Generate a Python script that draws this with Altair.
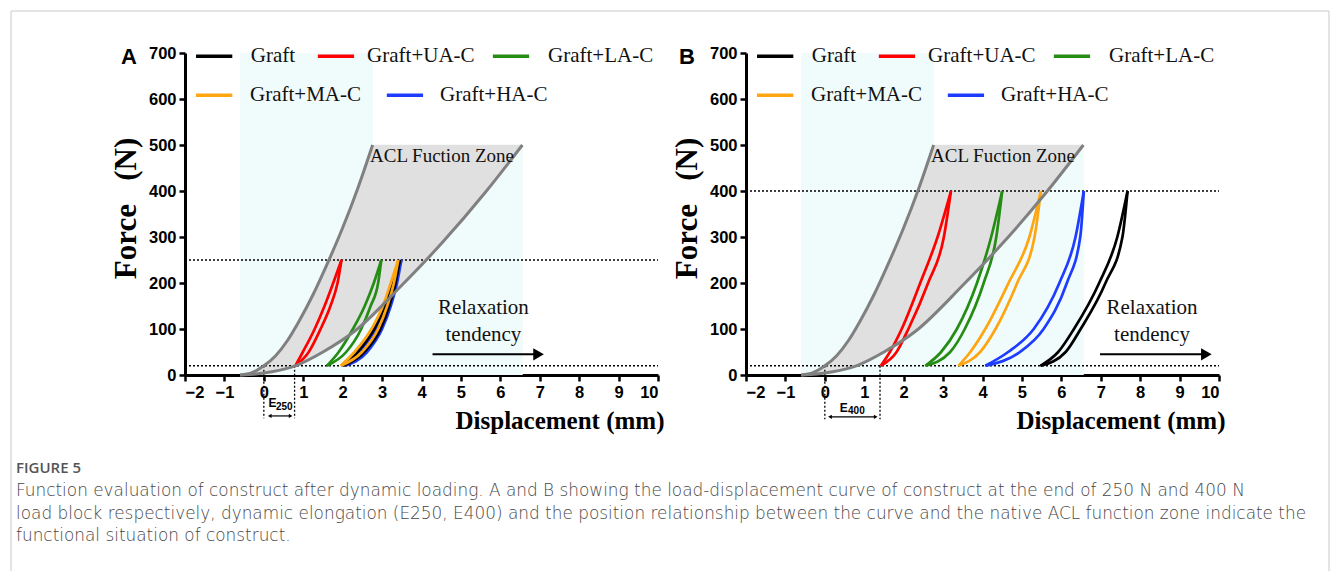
import altair as alt
import pandas as pd

# ---------------- data ----------------
SERIES = ["Graft", "Graft+UA-C", "Graft+LA-C", "Graft+MA-C", "Graft+HA-C"]
COLORS = ["#000000", "#ff0000", "#258c14", "#ffa510", "#1e3cff"]
DRAW_ORDER = ["Graft+HA-C", "Graft", "Graft+MA-C", "Graft+LA-C", "Graft+UA-C"]

X_TICKS = list(range(-2, 11))
Y_TICKS = list(range(0, 701, 100))

# native ACL function zone boundaries (same in both panels)
ZONE_LEFT_X = [-0.6, -0.3, 0.0, 0.3, 0.6, 0.9, 1.25, 1.6, 2.0, 2.38, 2.76]
ZONE_LEFT_Y = [0, 5, 20, 42, 75, 118, 175, 240, 320, 405, 500]
ZONE_RIGHT_X = [-0.6, -0.2, 0.2, 0.8, 1.5, 2.3, 3.5, 4.55, 5.6, 6.56]
ZONE_RIGHT_Y = [0, 2, 7, 20, 50, 95, 195, 290, 395, 500]

# light cyan backdrop of the zone picture
BACK_X = [-0.6, -0.6]
BACK_X2 = [2.77, 6.57]
BACK_Y = [0, 0]
BACK_Y2 = [700, 500]

# Panel A: 250 N load block (force levels, unloading branch x, loading branch x)
A_FORCE = [20, 50, 100, 150, 200, 250]
A_LOOPS = {
    "Graft":      ([2.01, 2.38, 2.80, 3.08, 3.27, 3.45], [2.01, 2.55, 2.96, 3.18, 3.34, 3.45]),
    "Graft+UA-C": ([0.80, 0.99, 1.29, 1.54, 1.76, 1.97], [0.80, 1.14, 1.44, 1.69, 1.87, 1.97]),
    "Graft+LA-C": ([1.60, 1.90, 2.26, 2.56, 2.79, 2.98], [1.60, 2.09, 2.47, 2.71, 2.90, 2.98]),
    "Graft+MA-C": ([1.95, 2.30, 2.73, 3.02, 3.22, 3.41], [1.95, 2.49, 2.90, 3.13, 3.30, 3.41]),
    "Graft+HA-C": ([2.05, 2.42, 2.84, 3.12, 3.30, 3.49], [2.05, 2.62, 3.00, 3.22, 3.38, 3.49]),
}

# Panel B: 400 N load block
B_FORCE = [20, 50, 100, 200, 300, 400]
B_LOOPS = {
    "Graft":      ([5.47, 5.92, 6.32, 6.96, 7.42, 7.68], [5.47, 6.11, 6.49, 7.12, 7.55, 7.68]),
    "Graft+UA-C": ([1.42, 1.65, 1.95, 2.42, 2.86, 3.20], [1.42, 1.82, 2.12, 2.62, 3.02, 3.20]),
    "Graft+LA-C": ([2.55, 2.95, 3.35, 3.86, 4.22, 4.50], [2.55, 3.18, 3.55, 4.03, 4.35, 4.50]),
    "Graft+MA-C": ([3.39, 3.69, 4.07, 4.66, 5.19, 5.48], [3.39, 3.94, 4.33, 4.88, 5.32, 5.48]),
    "Graft+HA-C": ([4.07, 4.65, 5.30, 5.95, 6.36, 6.57], [4.07, 4.95, 5.55, 6.14, 6.48, 6.57]),
}

PRELOAD = 20
A_TARGET = 250
B_TARGET = 400
A_ELONG = 0.78
B_ELONG = 1.40

CAPTION_TITLE = "FIGURE 5"
CAPTION_LINES = [
    "Function evaluation of construct after dynamic loading. A and B showing the load-displacement curve of construct at the end of 250 N and 400 N",
    "load block respectively, dynamic elongation (E250, E400) and the position relationship between the curve and the native ACL function zone indicate the",
    "functional situation of construct.",
]

# legend layout inside each panel (data units of the panel scales)
LEG_SYM_X = [-1.72, 1.37, 5.81, -1.72, 3.12]
LEG_SYM_LEN = 0.92
LEG_TXT_X = [-0.33, 2.62, 7.21, -0.35, 4.47]
LEG_Y = [693, 693, 693, 608, 608]

# ---------------- helpers ----------------
XS = alt.Scale(domain=[-2, 10], nice=False, zero=False)
YS = alt.Scale(domain=[0, 700], nice=False, zero=False)
CS = alt.Scale(domain=SERIES, range=COLORS)
W, H = 473, 322
SERIF = "Liberation Serif"
SANS = "Liberation Sans"

AX_X = alt.Axis(values=X_TICKS, title="Displacement (mm)", titleX=479, titleY=33,
                titleAlign="right", titleBaseline="top", titleFontSize=25, labelPadding=3)
AX_Y = alt.Axis(values=Y_TICKS, title="Force\u00a0\u00a0\u00a0(N)", titleX=-59, titleY=155,
                titleAngle=-90, titleAlign="center", titleBaseline="middle", titleFontSize=31,
                labelPadding=3)


def xq(field="x"):
    return alt.X(f"{field}:Q", scale=XS, axis=AX_X)


def yq(field="y"):
    return alt.Y(f"{field}:Q", scale=YS, axis=AX_Y)


def loop_frame(force, loops):
    rows = []
    for name, (unload, load) in loops.items():
        for branch, xs in (("unloading", unload), ("loading", load)):
            for i, (xv, fv) in enumerate(zip(xs, force)):
                rows.append({"series": name, "branch": branch, "i": i, "x": xv, "y": fv})
    return pd.DataFrame(rows)


def one(**kw):
    return pd.DataFrame({k: [v] for k, v in kw.items()})


def panel(tag, force, loops, target, elong, sub, e_xy, sub_xy, arr_y, arr_x, vbot,
          relax_x, arrow_x, arrow_end, tag_x, extras=None):
    back = pd.DataFrame({"x": BACK_X, "x2": BACK_X2, "y": BACK_Y, "y2": BACK_Y2})
    base = alt.Chart(back).mark_rect(color="#f0fbfb").encode(
        x=xq(), x2="x2:Q", y=yq(), y2="y2:Q")

    poly = pd.DataFrame({"x": ZONE_LEFT_X + ZONE_RIGHT_X[::-1],
                         "y": ZONE_LEFT_Y + ZONE_RIGHT_Y[::-1]})
    poly["i"] = range(len(poly))
    zone_fill = alt.Chart(poly).mark_line(fill="#e0e0e0", stroke="#e0e0e0", strokeWidth=0.5,
                                          interpolate="linear").encode(
        x=xq(), y=yq(), order="i:Q")

    zl = pd.DataFrame({"side": "left", "x": ZONE_LEFT_X, "y": ZONE_LEFT_Y})
    zr = pd.DataFrame({"side": "right", "x": ZONE_RIGHT_X, "y": ZONE_RIGHT_Y})
    zlines = pd.concat([zl, zr], ignore_index=True)
    zone_lines = alt.Chart(zlines).mark_line(color="#808080", strokeWidth=3,
                                             interpolate="monotone").encode(
        x=xq(), y=yq(), detail="side:N", order="y:Q")

    hlines = pd.DataFrame({"x": [-2, -2], "x2": [10, 10], "y": [target, PRELOAD]})
    hdots = alt.Chart(hlines).mark_rule(color="black", strokeWidth=1.6, strokeDash=[2, 2]).encode(
        x=xq(), x2="x2:Q", y=yq())

    vlines = pd.DataFrame({"x": [0, elong], "y": [PRELOAD, PRELOAD], "y2": [vbot, vbot]})
    vdots = alt.Chart(vlines).mark_rule(color="black", strokeWidth=1.3, strokeDash=[2, 2]).encode(
        x=xq(), y=yq(), y2="y2:Q")

    df = loop_frame(force, loops)
    loop_layers = []
    for s in DRAW_ORDER:
        loop_layers.append(
            alt.Chart(df).transform_filter(alt.datum.series == s).mark_line(
                interpolate="monotone", strokeWidth=2.7).encode(
                x=xq(), y=yq(),
                color=alt.Color("series:N", scale=CS, legend=None),
                detail="branch:N", order="i:Q"))

    leg = pd.DataFrame({"series": SERIES, "x": LEG_SYM_X,
                        "x2": [v + LEG_SYM_LEN for v in LEG_SYM_X],
                        "tx": LEG_TXT_X, "y": LEG_Y})
    leg_sym = alt.Chart(leg).mark_rule(strokeWidth=3.5).encode(
        x=xq(), x2="x2:Q", y=yq(), color=alt.Color("series:N", scale=CS, legend=None))
    leg_txt = alt.Chart(leg).mark_text(font=SERIF, fontSize=21, color="#111111",
                                       align="left", baseline="middle").encode(
        x=xq("tx"), y=yq(), text="series:N")

    zone_txt = alt.Chart(one(x=4.52, y=477, t="ACL Fuction Zone")).mark_text(
        font=SERIF, fontSize=19, color="#111111").encode(x=xq(), y=yq(), text="t:N")
    relax1 = alt.Chart(one(x=relax_x, y=145, t="Relaxation")).mark_text(
        font=SERIF, fontSize=21, color="#111111").encode(x=xq(), y=yq(), text="t:N")
    relax2 = alt.Chart(one(x=relax_x, y=88, t="tendency")).mark_text(
        font=SERIF, fontSize=21, color="#111111").encode(x=xq(), y=yq(), text="t:N")
    arrow = alt.Chart(one(x=arrow_x, x2=arrow_end, y=45)).mark_rule(
        color="black", strokeWidth=2).encode(x=xq(), x2="x2:Q", y=yq())
    head = alt.Chart(one(x=arrow_end, y=45)).mark_point(
        shape="triangle-right", filled=True, size=150, color="black", opacity=1).encode(
        x=xq(), y=yq())

    e_main = alt.Chart(one(x=e_xy[0], y=e_xy[1], t="E")).mark_text(
        font=SANS, fontWeight="bold", fontSize=12, color="black").encode(x=xq(), y=yq(), text="t:N")
    e_sub = alt.Chart(one(x=sub_xy[0], y=sub_xy[1], t=sub)).mark_text(
        font=SANS, fontWeight="bold", fontSize=10, color="black").encode(x=xq(), y=yq(), text="t:N")
    e_line = alt.Chart(one(x=arr_x[0], x2=arr_x[1], y=arr_y)).mark_rule(
        color="black", strokeWidth=1.2).encode(x=xq(), x2="x2:Q", y=yq())
    e_heads = alt.Chart(pd.DataFrame({"x": list(arr_x), "y": [arr_y, arr_y],
                                      "s": ["triangle-left", "triangle-right"]})).mark_point(
        filled=True, size=18, color="black", opacity=1).encode(
        x=xq(), y=yq(), shape=alt.Shape("s:N", scale=None))

    label = alt.Chart(one(t=tag)).mark_text(
        font=SANS, fontWeight="bold", fontSize=22, color="black").encode(
        x=alt.value(tag_x), y=alt.value(4), text="t:N")

    layers = [base, zone_fill, hdots, vdots] + loop_layers + [
        zone_lines, zone_txt, relax1, relax2, arrow, head, e_line, e_heads, e_main, e_sub,
        leg_sym, leg_txt, label]
    if extras:
        layers += extras
    return alt.layer(*layers).properties(width=W, height=H)


# frame + caption (attached to panel A, pixel offsets from its plot origin)
frame = [
    alt.Chart(one(a=0)).mark_rule(color="#c9c9c9", strokeWidth=1).encode(
        x=alt.value(-174), y=alt.value(-42), y2=alt.value(518)),
    alt.Chart(one(a=0)).mark_rule(color="#c9c9c9", strokeWidth=1).encode(
        x=alt.value(-174), x2=alt.value(1144), y=alt.value(-42)),
    alt.Chart(one(a=0)).mark_rule(color="#c9c9c9", strokeWidth=1).encode(
        x=alt.value(1144), y=alt.value(-42), y2=alt.value(518)),
]
caption = [
    alt.Chart(one(t=CAPTION_TITLE)).mark_text(
        font="Open Sans", fontSize=15, fontWeight=600, color="#555555",
        align="left", baseline="alphabetic").encode(
        x=alt.value(-169), y=alt.value(420), text="t:N"),
    alt.Chart(one(t="\n".join(CAPTION_LINES))).mark_text(
        font="DejaVu Sans", fontSize=16.9, fontWeight=200, color="#474747", align="left",
        baseline="alphabetic", lineBreak="\n", lineHeight=22.5).encode(
        x=alt.value(-169), y=alt.value(443), text="t:N"),
]

chart_a = panel("A", A_FORCE, A_LOOPS, A_TARGET, A_ELONG, "250",
                (0.22, -61), (0.52, -70), -89, (0.15, 0.68), -94,
                5.57, 4.28, 6.97, -56, extras=frame + caption)
chart_b = panel("B", B_FORCE, B_LOOPS, B_TARGET, B_ELONG, "400",
                (0.48, -72), (0.80, -79), -91, (0.13, 1.29), -96,
                8.3, 6.98, 9.68, -59)

chart = alt.hconcat(chart_a, chart_b, spacing=88, bounds="flush").properties(
    padding={"left": 10, "top": 10, "right": 0, "bottom": 0}
).configure_view(stroke=None).configure_axis(
    domainColor="black", domainWidth=3, tickColor="black", tickWidth=2.5, tickSize=6,
    labelFont=SANS, labelFontWeight="bold", labelFontSize=16.5, labelColor="black",
    titleFont=SERIF, titleFontWeight="bold", titleColor="black", grid=False,
)

chart.save("out.html", embed_options={"renderer": "svg", "actions": False})
